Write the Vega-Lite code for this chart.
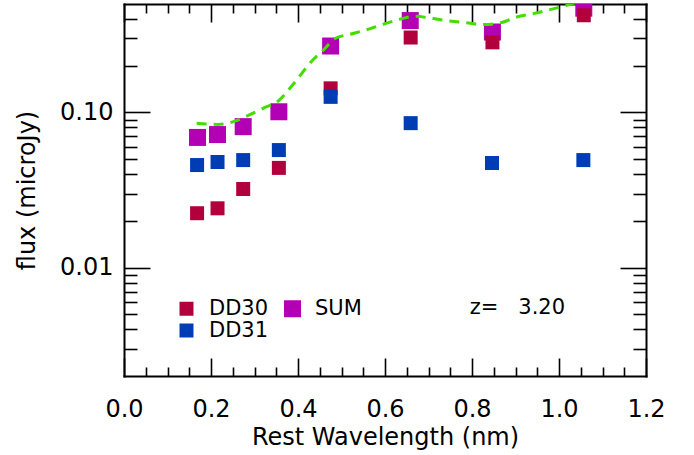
{
  "$schema": "https://vega.github.io/schema/vega-lite/v6.json",
  "width": 522,
  "height": 372,
  "autosize": {"type": "none"},
  "padding": {"left": 124, "top": 4, "right": 48, "bottom": 79},
  "background": "white",
  "datasets": {
    "sum": [
      {"wl": 0.169, "flux": 0.069, "series": "SUM"},
      {"wl": 0.215, "flux": 0.072, "series": "SUM"},
      {"wl": 0.274, "flux": 0.081, "series": "SUM"},
      {"wl": 0.356, "flux": 0.101, "series": "SUM"},
      {"wl": 0.475, "flux": 0.268, "series": "SUM"},
      {"wl": 0.658, "flux": 0.391, "series": "SUM"},
      {"wl": 0.847, "flux": 0.33, "series": "SUM"},
      {"wl": 1.057, "flux": 0.47, "series": "SUM"}
    ],
    "dd": [
      {"wl": 0.168, "flux": 0.0224, "series": "DD30"},
      {"wl": 0.215, "flux": 0.0241, "series": "DD30"},
      {"wl": 0.274, "flux": 0.0321, "series": "DD30"},
      {"wl": 0.356, "flux": 0.0439, "series": "DD30"},
      {"wl": 0.475, "flux": 0.143, "series": "DD30"},
      {"wl": 0.659, "flux": 0.304, "series": "DD30"},
      {"wl": 0.847, "flux": 0.283, "series": "DD30"},
      {"wl": 1.057, "flux": 0.423, "series": "DD30"},
      {"wl": 0.168, "flux": 0.0458, "series": "DD31"},
      {"wl": 0.215, "flux": 0.0479, "series": "DD31"},
      {"wl": 0.274, "flux": 0.0493, "series": "DD31"},
      {"wl": 0.356, "flux": 0.0572, "series": "DD31"},
      {"wl": 0.475, "flux": 0.126, "series": "DD31"},
      {"wl": 0.659, "flux": 0.0853, "series": "DD31"},
      {"wl": 0.846, "flux": 0.0472, "series": "DD31"},
      {"wl": 1.056, "flux": 0.0493, "series": "DD31"}
    ],
    "model": [
      {"wl": 0.167, "flux": 0.0852},
      {"wl": 0.216, "flux": 0.0837},
      {"wl": 0.255, "flux": 0.0879},
      {"wl": 0.287, "flux": 0.0961},
      {"wl": 0.324, "flux": 0.1077},
      {"wl": 0.355, "flux": 0.1187},
      {"wl": 0.389, "flux": 0.152},
      {"wl": 0.435, "flux": 0.2193},
      {"wl": 0.458, "flux": 0.2518},
      {"wl": 0.485, "flux": 0.2994},
      {"wl": 0.527, "flux": 0.3225},
      {"wl": 0.566, "flux": 0.3471},
      {"wl": 0.6, "flux": 0.3738},
      {"wl": 0.634, "flux": 0.3985},
      {"wl": 0.669, "flux": 0.4166},
      {"wl": 0.711, "flux": 0.4026},
      {"wl": 0.749, "flux": 0.3885},
      {"wl": 0.792, "flux": 0.3772},
      {"wl": 0.826, "flux": 0.3683},
      {"wl": 0.864, "flux": 0.3772},
      {"wl": 0.903, "flux": 0.4123},
      {"wl": 0.941, "flux": 0.4336},
      {"wl": 0.979, "flux": 0.4601},
      {"wl": 1.018, "flux": 0.4904},
      {"wl": 1.057, "flux": 0.53}
    ],
    "note": [
      {"wl": 1.014, "flux": 0.00551, "label": "z=\u00a0\u00a0\u00a03.20"}
    ]
  },
  "config": {
    "view": {"stroke": null},
    "axis": {
      "grid": false,
      "labelFont": "DejaVu Sans",
      "labelFontSize": 24,
      "labelFontWeight": "normal",
      "labelColor": "#000000",
      "titleFont": "DejaVu Sans",
      "titleFontSize": 24,
      "titleFontWeight": "normal",
      "titleColor": "#000000",
      "domainColor": "#000000",
      "domainWidth": 2,
      "domainCap": "square",
      "tickColor": "#000000",
      "tickWidth": 1.6,
      "labelFlush": false,
      "labelOverlap": false,
      "labelBound": false
    }
  },
  "resolve": {"axis": {"x": "independent", "y": "independent"}},
  "layer": [
    {
      "data": {"name": "sum"},
      "mark": {"type": "square", "opacity": 1, "strokeWidth": 0, "clip": true},
      "encoding": {
        "x": {
          "field": "wl", "type": "quantitative",
          "scale": {"domain": [0, 1.2], "nice": false, "zero": false},
          "axis": {"orient": "bottom", "values": [0, 0.2, 0.4, 0.6, 0.8, 1.0, 1.2], "format": ".1f", "tickSize": -18, "labelPadding": 39, "title": "Rest Wavelength (nm)", "titleY": 61, "titleBaseline": "middle"}
        },
        "y": {
          "field": "flux", "type": "quantitative",
          "scale": {"type": "log", "domain": [0.002, 0.5], "nice": false},
          "axis": {"orient": "left", "values": [0.01, 0.1], "format": ".2f", "tickSize": -26, "labelPadding": 37, "labelBaseline": "middle", "title": "flux (microJy)", "titleX": -97, "titleBaseline": "middle"}
        },
        "color": {
          "field": "series", "type": "nominal",
          "scale": {"domain": ["DD30", "DD31", "SUM"], "range": ["#B2003C", "#003CB4", "#B400B4"]},
          "legend": {"orient": "none", "legendX": 52, "legendY": 294, "columns": 2, "title": null, "symbolType": "square", "symbolStrokeWidth": 0, "symbolOpacity": 1, "labelFont": "DejaVu Sans", "labelFontSize": 21, "labelColor": "#000000", "labelOffset": 12, "columnPadding": 13, "rowPadding": 0, "padding": 0}
        },
        "size": {
          "field": "series", "type": "nominal",
          "scale": {"type": "ordinal", "domain": ["DD30", "DD31", "SUM"], "range": [196, 196, 289]},
          "legend": {"orient": "none", "legendX": 52, "legendY": 294, "columns": 2, "title": null, "symbolType": "square", "symbolStrokeWidth": 0, "symbolOpacity": 1, "labelFont": "DejaVu Sans", "labelFontSize": 21, "labelColor": "#000000", "labelOffset": 12, "columnPadding": 13, "rowPadding": 0, "padding": 0}
        }
      }
    },
    {
      "data": {"name": "dd"},
      "mark": {"type": "square", "opacity": 1, "strokeWidth": 0, "clip": true},
      "encoding": {
        "x": {
          "field": "wl", "type": "quantitative",
          "scale": {"domain": [0, 1.2], "nice": false, "zero": false},
          "axis": {"orient": "bottom", "values": [0.05, 0.1, 0.15, 0.25, 0.3, 0.35, 0.45, 0.5, 0.55, 0.65, 0.7, 0.75, 0.85, 0.9, 0.95, 1.05, 1.1, 1.15], "tickSize": -9, "labels": false, "domain": false, "title": null}
        },
        "y": {
          "field": "flux", "type": "quantitative",
          "scale": {"type": "log", "domain": [0.002, 0.5], "nice": false},
          "axis": {"orient": "left", "values": [0.003, 0.004, 0.005, 0.006, 0.007, 0.008, 0.009, 0.02, 0.03, 0.04, 0.05, 0.06, 0.07, 0.08, 0.09, 0.2, 0.3, 0.4], "tickSize": -13, "labels": false, "domain": false, "title": null}
        },
        "color": {
          "field": "series", "type": "nominal",
          "scale": {"domain": ["DD30", "DD31", "SUM"], "range": ["#B2003C", "#003CB4", "#B400B4"]},
          "legend": {"orient": "none", "legendX": 52, "legendY": 294, "columns": 2, "title": null, "symbolType": "square", "symbolStrokeWidth": 0, "symbolOpacity": 1, "labelFont": "DejaVu Sans", "labelFontSize": 21, "labelColor": "#000000", "labelOffset": 12, "columnPadding": 13, "rowPadding": 0, "padding": 0}
        },
        "size": {
          "field": "series", "type": "nominal",
          "scale": {"type": "ordinal", "domain": ["DD30", "DD31", "SUM"], "range": [196, 196, 289]},
          "legend": {"orient": "none", "legendX": 52, "legendY": 294, "columns": 2, "title": null, "symbolType": "square", "symbolStrokeWidth": 0, "symbolOpacity": 1, "labelFont": "DejaVu Sans", "labelFontSize": 21, "labelColor": "#000000", "labelOffset": 12, "columnPadding": 13, "rowPadding": 0, "padding": 0}
        }
      }
    },
    {
      "data": {"name": "model"},
      "mark": {"type": "line", "color": "#44DD00", "strokeWidth": 3, "strokeDash": [10, 7], "interpolate": "monotone", "clip": true},
      "encoding": {
        "x": {
          "field": "wl", "type": "quantitative",
          "scale": {"domain": [0, 1.2], "nice": false, "zero": false},
          "axis": {"orient": "top", "values": [0, 0.2, 0.4, 0.6, 0.8, 1.0, 1.2], "tickSize": -18, "labels": false, "domain": true, "title": null}
        },
        "y": {
          "field": "flux", "type": "quantitative",
          "scale": {"type": "log", "domain": [0.002, 0.5], "nice": false},
          "axis": {"orient": "right", "values": [0.01, 0.1], "tickSize": -26, "labels": false, "domain": true, "title": null}
        }
      }
    },
    {
      "data": {"name": "note"},
      "mark": {"type": "text", "align": "right", "baseline": "middle", "font": "DejaVu Sans", "fontSize": 21, "color": "#000000"},
      "encoding": {
        "x": {
          "field": "wl", "type": "quantitative",
          "scale": {"domain": [0, 1.2], "nice": false, "zero": false},
          "axis": {"orient": "top", "values": [0.05, 0.1, 0.15, 0.25, 0.3, 0.35, 0.45, 0.5, 0.55, 0.65, 0.7, 0.75, 0.85, 0.9, 0.95, 1.05, 1.1, 1.15], "tickSize": -9, "labels": false, "domain": false, "title": null}
        },
        "y": {
          "field": "flux", "type": "quantitative",
          "scale": {"type": "log", "domain": [0.002, 0.5], "nice": false},
          "axis": {"orient": "right", "values": [0.003, 0.004, 0.005, 0.006, 0.007, 0.008, 0.009, 0.02, 0.03, 0.04, 0.05, 0.06, 0.07, 0.08, 0.09, 0.2, 0.3, 0.4], "tickSize": -13, "labels": false, "domain": false, "title": null}
        },
        "text": {"field": "label"}
      }
    }
  ]
}
